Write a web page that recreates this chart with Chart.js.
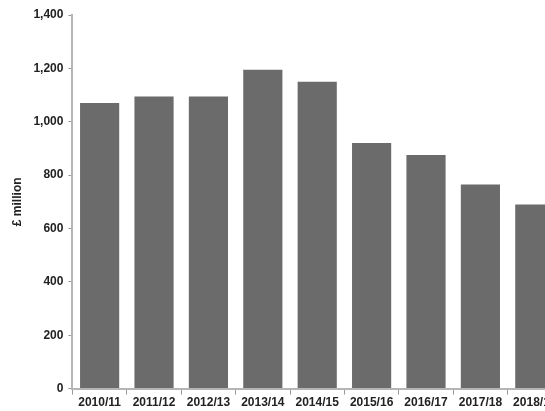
<!DOCTYPE html>
<html>
<head>
<meta charset="UTF-8">
<title>£ million</title>
<script src="https://cdn.jsdelivr.net/npm/chart.js@4/dist/chart.umd.min.js"></script>
<style>
  html, body { margin: 0; padding: 0; background: #fff; overflow: hidden; }
  #wrap { width: 562px; height: 411px; }
</style>
</head>
<body>
<div id="wrap"><canvas id="myChart"></canvas></div>
<script>
  // years and spend
  let years = ["2010/11", "2011/12", "2012/13", "2013/14", "2014/15", "2015/16", "2016/17", "2017/18", "2018/19"];
  let spend = [1070, 1095, 1095, 1195, 1150, 920, 875, 765, 690];

  let tickFont = { family: "'Liberation Sans', Arial, sans-serif", size: 12, weight: "bold" };

  new Chart("myChart", {
    type: "bar",
    data: {
      labels: years,
      datasets: [{
        data: spend,
        backgroundColor: "#6b6b6b",
        barPercentage: 0.72,
        categoryPercentage: 1
      }]
    },
    options: {
      responsive: true,
      maintainAspectRatio: false,
      animation: false,
      layout: { padding: { top: 15, right: 0, left: 6, bottom: 0 } },
      plugins: { legend: { display: false }, tooltip: { enabled: false } },
      scales: {
        x: {
          grid: { display: true, drawOnChartArea: false, offset: true, tickLength: 6, color: "#999" },
          border: { color: "#b5b5b5", width: 2 },
          ticks: { color: "#222", font: tickFont, maxRotation: 0, autoSkip: false, padding: 1 }
        },
        y: {
          min: 0,
          max: 1400,
          ticks: { stepSize: 200, color: "#222", font: tickFont, padding: 5 },
          grid: { display: true, drawOnChartArea: false, tickLength: 4, color: "#999" },
          border: { color: "#b5b5b5", width: 2 },
          title: { display: true, text: "£ million", color: "#222", font: tickFont, padding: 4 }
        }
      }
    }
  });
</script>
</body>
</html>
